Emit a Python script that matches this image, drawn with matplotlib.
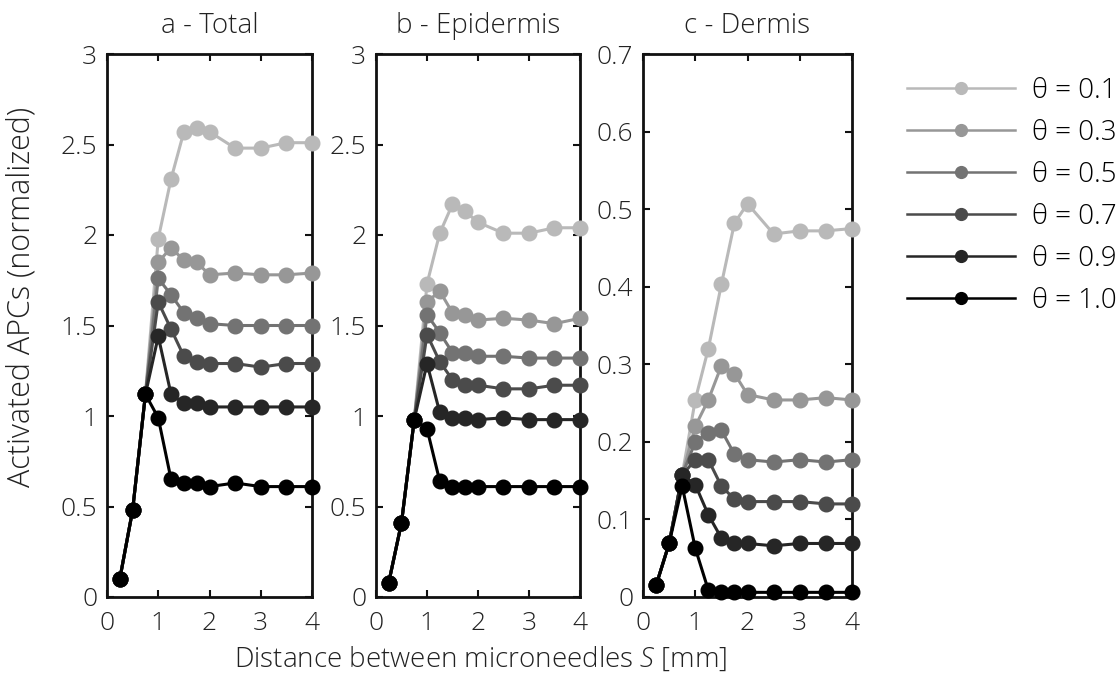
import numpy as np
import matplotlib
matplotlib.use('Agg')
import matplotlib.pyplot as plt
from matplotlib.ticker import FormatStrFormatter

plt.rcParams['font.family'] = ['Open Sans', 'DejaVu Sans']
plt.rcParams['font.weight'] = 'light'
plt.rcParams['axes.titleweight'] = 'light'
plt.rcParams['axes.labelweight'] = 'light'
plt.rcParams['font.size'] = 18
plt.rcParams['mathtext.fontset'] = 'custom'
plt.rcParams['mathtext.rm'] = 'Open Sans:light'
plt.rcParams['mathtext.it'] = 'Open Sans:italic:light'

# distance between microneedles S [mm]
s = [0.25, 0.5, 0.75, 1.0, 1.25, 1.5, 1.75, 2.0, 2.5, 3.0, 3.5, 4.0]
thetas = ['0.1', '0.3', '0.5', '0.7', '0.9', '1.0']
colors = ['#b9b9b9', '#979797', '#737373', '#4b4b4b', '#262626', '#000000']

# a - Total
total_01 = [0.10, 0.48, 1.12, 1.98, 2.31, 2.57, 2.59, 2.57, 2.48, 2.48, 2.51, 2.51]
total_03 = [0.10, 0.48, 1.12, 1.85, 1.93, 1.86, 1.85, 1.78, 1.79, 1.78, 1.78, 1.79]
total_05 = [0.10, 0.48, 1.12, 1.76, 1.67, 1.57, 1.54, 1.51, 1.50, 1.50, 1.50, 1.50]
total_07 = [0.10, 0.48, 1.12, 1.63, 1.48, 1.33, 1.30, 1.29, 1.29, 1.27, 1.29, 1.29]
total_09 = [0.10, 0.48, 1.12, 1.44, 1.12, 1.07, 1.07, 1.05, 1.05, 1.05, 1.05, 1.05]
total_10 = [0.10, 0.48, 1.12, 0.99, 0.65, 0.63, 0.63, 0.61, 0.63, 0.61, 0.61, 0.61]

# b - Epidermis
epi_01 = [0.08, 0.41, 0.98, 1.73, 2.01, 2.17, 2.13, 2.07, 2.01, 2.01, 2.04, 2.04]
epi_03 = [0.08, 0.41, 0.98, 1.63, 1.69, 1.57, 1.56, 1.53, 1.54, 1.53, 1.51, 1.54]
epi_05 = [0.08, 0.41, 0.98, 1.56, 1.46, 1.35, 1.35, 1.33, 1.33, 1.32, 1.32, 1.32]
epi_07 = [0.08, 0.41, 0.98, 1.45, 1.30, 1.20, 1.17, 1.17, 1.15, 1.15, 1.17, 1.17]
epi_09 = [0.08, 0.41, 0.98, 1.29, 1.02, 0.99, 0.99, 0.98, 0.99, 0.98, 0.98, 0.98]
epi_10 = [0.08, 0.41, 0.98, 0.93, 0.64, 0.61, 0.61, 0.61, 0.61, 0.61, 0.61, 0.61]

# c - Dermis
der_01 = [0.015, 0.069, 0.157, 0.254, 0.320, 0.403, 0.482, 0.507, 0.468, 0.472, 0.472, 0.475]
der_03 = [0.015, 0.069, 0.157, 0.220, 0.254, 0.298, 0.288, 0.261, 0.254, 0.254, 0.257, 0.254]
der_05 = [0.015, 0.069, 0.157, 0.200, 0.212, 0.215, 0.184, 0.177, 0.174, 0.177, 0.174, 0.177]
der_07 = [0.015, 0.069, 0.157, 0.177, 0.177, 0.143, 0.126, 0.123, 0.123, 0.123, 0.120, 0.120]
der_09 = [0.015, 0.069, 0.157, 0.145, 0.106, 0.076, 0.069, 0.069, 0.066, 0.069, 0.069, 0.069]
der_10 = [0.015, 0.069, 0.143, 0.063, 0.009, 0.006, 0.006, 0.006, 0.006, 0.006, 0.006, 0.006]

panels = [
    ('a - Total', [total_01, total_03, total_05, total_07, total_09, total_10], 3, 0.5),
    ('b - Epidermis', [epi_01, epi_03, epi_05, epi_07, epi_09, epi_10], 3, 0.5),
    ('c - Dermis', [der_01, der_03, der_05, der_07, der_09, der_10], 0.7, 0.1),
]
lefts = [107, 376, 643]
widths = [205, 204, 209]

fig = plt.figure(figsize=(11.2, 6.8), dpi=100)

axes = []
for k, (title, series, ymax, ystep) in enumerate(panels):
    ax = fig.add_axes([lefts[k] / 1120, 83 / 680, widths[k] / 1120, 543 / 680])
    for y, c in zip(series, colors):
        ax.plot(s, y, '-o', color=c, lw=2.2, ms=10.5, clip_on=False, zorder=3)
    ax.set_xlim(0, 4)
    ax.set_ylim(0, ymax)
    ax.set_xticks([0, 1, 2, 3, 4])
    ax.set_yticks(np.arange(0, ymax + ystep / 2, ystep))
    ax.yaxis.set_major_formatter(FormatStrFormatter('%g'))
    ax.tick_params(direction='in', top=True, right=True, length=5, width=1.5,
                   colors='#111111', labelcolor='#222222', labelsize=19)
    ax.tick_params(axis='x', pad=10)
    ax.tick_params(axis='y', pad=7)
    for sp in ax.spines.values():
        sp.set_linewidth(2)
        sp.set_color('#111111')
    ax.set_title(title, fontsize=20, pad=15, color='#222222', fontweight='light')
    axes.append(ax)

fig.text(22 / 1120, 1 - 297 / 680, 'Activated APCs (normalized)', rotation=90,
         ha='center', va='center', fontsize=22, color='#222222')
fig.text(481 / 1120, 1 - 660 / 680, 'Distance between microneedles $\\mathit{S}$ [mm]',
         ha='center', va='center', fontsize=20, color='#222222')

handles = [plt.Line2D([], [], color=c, marker='o', lw=1.8, ms=8.5) for c in colors]
labels = ['\u03b8 = ' + t for t in thetas]
fig.legend(handles, labels, loc='upper left', bbox_to_anchor=(896 / 1120, 1 - 66 / 680),
           frameon=False, fontsize=20, handlelength=3.9, handletextpad=0.6,
           labelspacing=0.5, borderaxespad=0)

fig.savefig('out.png', dpi=100)
